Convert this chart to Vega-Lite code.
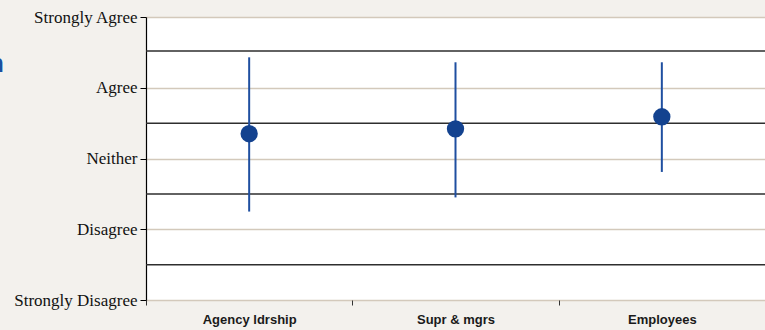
{
  "$schema": "https://vega.github.io/schema/vega-lite/v6.json",
  "width": 619,
  "height": 283,
  "autosize": "none",
  "padding": {"left": 146, "top": 17, "right": 0, "bottom": 30},
  "background": "#f3f1ed",
  "view": {"fill": "#ffffff", "stroke": null},
  "title": {
    "text": "n",
    "orient": "top",
    "anchor": "start",
    "frame": "group",
    "baseline": "alphabetic",
    "offset": 0,
    "dx": -158,
    "dy": 90,
    "font": "Liberation Sans",
    "fontSize": 26,
    "fontWeight": "bold",
    "color": "#1a4fa0"
  },
  "datasets": {
    "scores": [
      {"group": "Agency ldrship", "mean": 3.35, "low": 2.25, "high": 4.43},
      {"group": "Supr & mgrs", "mean": 3.42, "low": 2.45, "high": 4.36},
      {"group": "Employees", "mean": 3.59, "low": 2.81, "high": 4.36}
    ],
    "bounds": [{"y": 1.5}, {"y": 2.5}, {"y": 3.5}, {"y": 4.52}]
  },
  "config": {
    "axisY": {
      "grid": true,
      "gridColor": "#d3c9bb",
      "gridWidth": 1.5,
      "domainColor": "#000000",
      "domainWidth": 1.2,
      "tickColor": "#000000",
      "tickSize": 6,
      "labelFont": "Liberation Serif",
      "labelFontSize": 17,
      "labelColor": "#111111",
      "labelPadding": 3,
      "title": null
    },
    "axisX": {
      "domain": false,
      "grid": false,
      "tickBand": "extent",
      "tickColor": "#333333",
      "tickSize": 5,
      "labelAngle": 0,
      "labelFont": "Liberation Sans",
      "labelFontSize": 13,
      "labelFontWeight": "bold",
      "labelColor": "#1a1a1a",
      "labelPadding": 8,
      "title": null
    }
  },
  "layer": [
    {
      "data": {"name": "bounds"},
      "mark": {"type": "rule", "color": "#2e2e2e", "strokeWidth": 1.5},
      "encoding": {
        "y": {
          "field": "y",
          "type": "quantitative",
          "scale": {"domain": [1, 5], "nice": false, "zero": false},
          "axis": {
            "values": [1, 2, 3, 4, 5],
            "labelExpr": "['','Strongly Disagree','Disagree','Neither','Agree','Strongly Agree'][datum.value]",
            "title": null
          }
        }
      }
    },
    {
      "data": {"name": "scores"},
      "mark": {"type": "rule", "color": "#1f4fa0", "strokeWidth": 2},
      "encoding": {
        "x": {"field": "group", "type": "nominal", "sort": null, "scale": {"paddingInner": 0, "paddingOuter": 0}},
        "y": {"field": "low", "type": "quantitative"},
        "y2": {"field": "high"}
      }
    },
    {
      "data": {"name": "scores"},
      "mark": {"type": "circle", "color": "#13428f", "opacity": 1, "size": 300},
      "encoding": {
        "x": {"field": "group", "type": "nominal", "sort": null},
        "y": {"field": "mean", "type": "quantitative"}
      }
    }
  ]
}
